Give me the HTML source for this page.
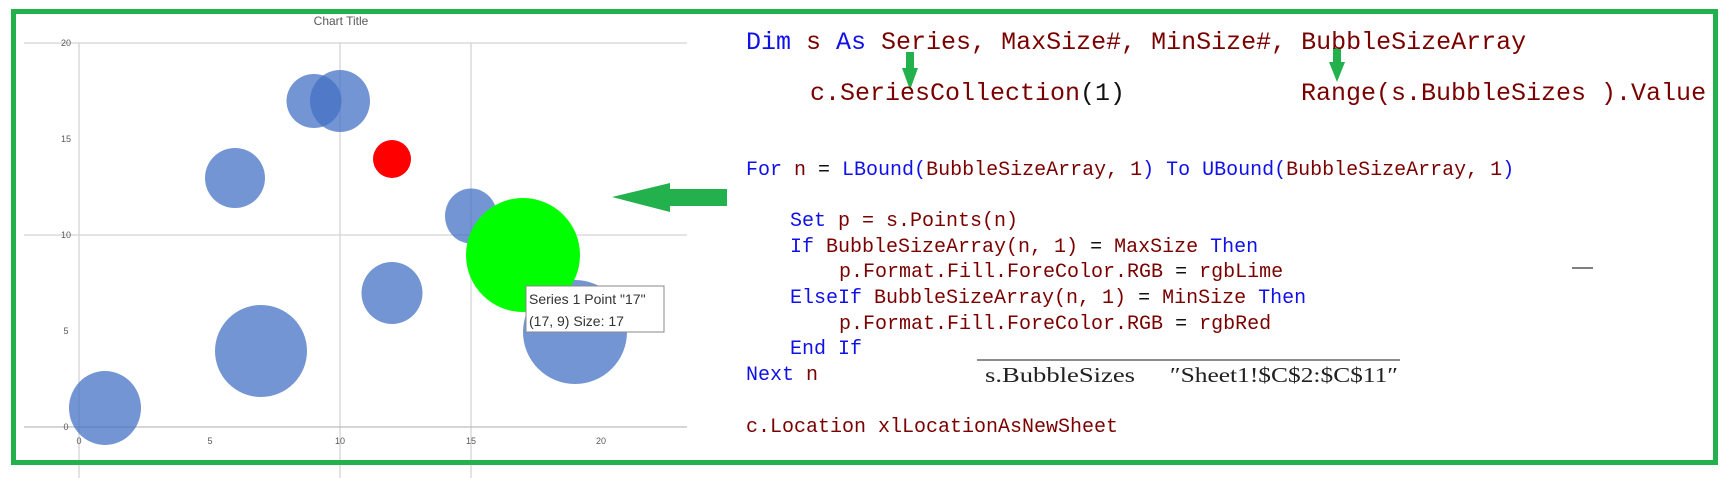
<!DOCTYPE html>
<html><head><meta charset="utf-8"><style>
html,body{margin:0;padding:0;background:#fff;width:1724px;height:478px;overflow:hidden}
svg{display:block}
.m{font-family:"Liberation Mono",monospace}
.b{fill:#1010e8}.r{fill:#7a0000}.k{fill:#111}
</style></head><body>
<svg width="1724" height="478" viewBox="0 0 1724 478" xmlns="http://www.w3.org/2000/svg">
<rect x="0" y="0" width="1724" height="478" fill="#fff"/>
<!-- chart grid -->
<g stroke="#d4d4d4" stroke-width="1.3">
<line x1="24" y1="43" x2="687" y2="43"/>
<line x1="24" y1="235" x2="687" y2="235"/>
<line x1="79" y1="43" x2="79" y2="478"/>
<line x1="340" y1="43" x2="340" y2="478"/>
<line x1="471" y1="43" x2="471" y2="478"/>
</g>
<line x1="24" y1="427" x2="687" y2="427" stroke="#bdbdbd" stroke-width="1.3"/>
<text x="341" y="25" font-family="Liberation Sans,sans-serif" font-size="12" fill="#595959" text-anchor="middle">Chart Title</text>
<g font-family="Liberation Sans,sans-serif" font-size="9" fill="#595959" text-anchor="middle">
<text x="66" y="46">20</text><text x="66" y="142">15</text><text x="66" y="238">10</text><text x="66" y="334">5</text><text x="66" y="430">0</text>
<text x="79" y="444">0</text><text x="210" y="444">5</text><text x="340" y="444">10</text><text x="471" y="444">15</text><text x="601" y="444">20</text>
</g>
<g fill="#4472c4" fill-opacity="0.75">
<ellipse cx="105" cy="408" rx="36" ry="37"/>
<ellipse cx="261" cy="351" rx="46" ry="46"/>
<ellipse cx="235" cy="178" rx="30" ry="30"/>
<ellipse cx="314" cy="101" rx="27.5" ry="27"/>
<ellipse cx="340" cy="101" rx="30" ry="31"/>
<ellipse cx="471" cy="216" rx="26" ry="27.5"/>
<ellipse cx="392" cy="293" rx="30.5" ry="31"/>
<ellipse cx="575" cy="332" rx="52" ry="52"/>
</g>
<ellipse cx="392" cy="159" rx="19" ry="19" fill="#ff0000"/>
<ellipse cx="523" cy="255" rx="57" ry="57" fill="#00ff00"/>
<rect x="526" y="286" width="138" height="46" fill="#fff" stroke="#8a8a8a" stroke-width="1"/>
<g font-family="Liberation Sans,sans-serif" font-size="14" fill="#333">
<text x="529" y="304">Series 1 Point "17"</text>
<text x="529" y="326">(17, 9) Size: 17</text>
</g>
<!-- big arrow -->
<polygon points="612,197 670,183 670,189 727,189 727,206 670,206 670,212" fill="#22b14c"/>
<!-- border -->
<rect x="13.5" y="11.5" width="1702" height="451" fill="none" stroke="#22b14c" stroke-width="5"/>
<!-- small arrows -->
<g fill="#22b14c">
<rect x="906" y="52" width="8" height="18"/><polygon points="902,68 918,68 910,90"/>
<rect x="1333" y="48" width="8" height="16"/><polygon points="1329,62 1345,62 1337,82"/>
</g>
<g class="m">
<text x="746" y="49" font-size="25"><tspan class="b">Dim</tspan><tspan class="r"> s </tspan><tspan class="b">As</tspan><tspan class="r"> Series, MaxSize#, MinSize#, BubbleSizeArray</tspan></text>
<text x="810" y="100" font-size="25" class="r">c.SeriesCollection<tspan class="k">(1)</tspan></text>
<text x="1301" y="100" font-size="25" class="r">Range(s.BubbleSizes ).Value</text>
<g font-size="20">
<text x="746" y="175"><tspan class="b">For</tspan><tspan class="r"> n </tspan><tspan class="k">=</tspan><tspan class="b"> LBound(</tspan><tspan class="r">BubbleSizeArray, 1</tspan><tspan class="b">) To UBound(</tspan><tspan class="r">BubbleSizeArray, 1</tspan><tspan class="b">)</tspan></text>
<text x="790" y="226"><tspan class="b">Set</tspan><tspan class="r"> p = s.Points(n)</tspan></text>
<text x="790" y="252"><tspan class="b">If</tspan><tspan class="r"> BubbleSizeArray(n, 1) </tspan><tspan class="k">=</tspan><tspan class="r"> MaxSize </tspan><tspan class="b">Then</tspan></text>
<text x="839" y="277" class="r">p.Format.Fill.ForeColor.RGB <tspan class="k">=</tspan> rgbLime</text>
<text x="790" y="303"><tspan class="b">ElseIf</tspan><tspan class="r"> BubbleSizeArray(n, 1) </tspan><tspan class="k">=</tspan><tspan class="r"> MinSize </tspan><tspan class="b">Then</tspan></text>
<text x="839" y="329" class="r">p.Format.Fill.ForeColor.RGB <tspan class="k">=</tspan> rgbRed</text>
<text x="790" y="354" class="b">End If</text>
<text x="746" y="380"><tspan class="b">Next</tspan><tspan class="r"> n</tspan></text>
<text x="746" y="432" class="r">c.Location xlLocationAsNewSheet</text>
</g>
</g>
<line x1="1572" y1="268" x2="1593" y2="268" stroke="#555" stroke-width="1.5"/>
<line x1="977" y1="360" x2="1400" y2="360" stroke="#666" stroke-width="1.5"/>
<g font-family="Liberation Serif,serif" font-size="21" fill="#222">
<text x="985" y="382" textLength="150" lengthAdjust="spacingAndGlyphs">s.BubbleSizes</text>
<text x="1170" y="382" textLength="228" lengthAdjust="spacingAndGlyphs">″Sheet1!$C$2:$C$11″</text>
</g>
</svg>
</body></html>
